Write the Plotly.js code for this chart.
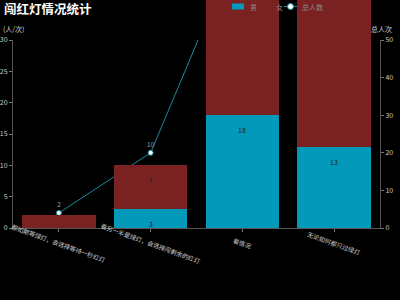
<!DOCTYPE html>
<html><head><meta charset="utf-8">
<script src="https://cdn.plot.ly/plotly-3.0.1.min.js"></script>
<style>html,body{margin:0;padding:0;background:#000;}#chart{width:400px;height:300px;}</style>
</head><body><div id="chart"></div>
<script>
const categories = ["都如期等绿灯，会选择等待一秒红灯", "看另一半是绿灯，会选择闯剩余的红灯", "看情况", "无论如何都只过绿灯"];
const maleValues = [0, 3, 18, 13];
const femaleValues = [2, 7, 21, 25];
const totalValues = [2, 10, 39, 38];
const seriesNames = ["男", "女", "总人数"];
const titleText = "闯红灯情况统计";
const leftAxisName = "(人/次)";
const rightAxisName = "总人次";
const leftMax = 30, rightMax = 50, lineMax = 25;

const FONT = '"Noto Sans CJK SC", "Noto Sans", sans-serif';
const maleColor = '#0399bb';
const femaleColor = '#7a2222';
const lineColor = '#1a8a9c';

// geometry (pixels)
const L = 13, R = 380, T = 40, B = 228;
const frac = (B - T) / B;
const px2x = p => (p - L) / (R - L);
const px2y = p => (B - p) / B;
const barMax = leftMax / frac;

const xIdx = categories.map((c, i) => i);

const traces = [
  {type: 'scatter', x: [], y: [], yaxis: 'y', showlegend: false, hoverinfo: 'none'},
  {type: 'scatter', x: [], y: [], yaxis: 'y2', showlegend: false, hoverinfo: 'none'},
  {type: 'bar', name: seriesNames[0], x: xIdx, y: maleValues, yaxis: 'y4', marker: {color: maleColor},
   hoverinfo: 'none', showlegend: false},
  {type: 'bar', name: seriesNames[1], x: xIdx, y: femaleValues, yaxis: 'y4', marker: {color: femaleColor},
   hoverinfo: 'none', showlegend: false},
  {type: 'scatter', mode: 'lines+markers+text', name: seriesNames[2], x: xIdx, y: totalValues, yaxis: 'y3',
   line: {color: lineColor, width: 1},
   marker: {color: '#fff', size: 5, line: {color: lineColor, width: 1}},
   text: totalValues.map(v => v <= lineMax ? String(v) : ''), textposition: 'top center',
   textfont: {color: '#999', size: 7, family: FONT},
   hoverinfo: 'none', showlegend: false}
];

const annotations = [];
categories.forEach((c, i) => {
  annotations.push({x: i, xref: 'x', y: 0, yref: 'y', yshift: -15, text: c, textangle: 20,
    showarrow: false, xanchor: 'center', yanchor: 'middle',
    font: {color: '#ccc', size: 6.2, family: FONT}});
});
const pxPerUnit = (B - T) / leftMax;
maleValues.forEach((v, i) => {
  if (v * pxPerUnit > 15) annotations.push({x: i, xref: 'x', y: v, yref: 'y4', yshift: -15, text: String(v),
    showarrow: false, font: {color: '#222', size: 7, family: FONT}});
});
femaleValues.forEach((v, i) => {
  const top = maleValues[i] + v;
  if (v * pxPerUnit > 15 && top <= barMax) annotations.push({x: i, xref: 'x', y: top, yref: 'y4', yshift: -15, text: String(v),
    showarrow: false, font: {color: '#222', size: 7, family: FONT}});
});
annotations.push({x: px2x(13), xref: 'paper', y: px2y(29), yref: 'paper', text: leftAxisName, showarrow: false,
  xanchor: 'center', yanchor: 'middle', font: {color: '#ccc', size: 7, family: FONT}});
annotations.push({x: px2x(381), xref: 'paper', y: px2y(29), yref: 'paper', text: rightAxisName, showarrow: false,
  xanchor: 'center', yanchor: 'middle', font: {color: '#ccc', size: 7, family: FONT}});
const legTextX = [248, 274, 300];
seriesNames.forEach((n, i) => {
  annotations.push({x: px2x(legTextX[i]), xref: 'paper', y: px2y(6.5), yref: 'paper', text: n, showarrow: false,
    xanchor: 'left', yanchor: 'middle', font: {color: '#8a8a8a', size: 7, family: FONT}});
});
annotations.push({x: px2x(3), xref: 'paper', y: px2y(8), yref: 'paper', text: '<b>' + titleText + '</b>', showarrow: false,
  xanchor: 'left', yanchor: 'middle', borderpad: 0, font: {color: '#fff', size: 12.5, family: FONT}});

const shapes = [
  {type: 'rect', xref: 'paper', yref: 'paper', x0: px2x(232), x1: px2x(244), y0: px2y(9.5), y1: px2y(3.5),
   fillcolor: maleColor, line: {width: 0}},
  {type: 'rect', xref: 'paper', yref: 'paper', x0: px2x(258), x1: px2x(270), y0: px2y(9.5), y1: px2y(3.5),
   fillcolor: femaleColor, line: {width: 0}},
  {type: 'line', xref: 'paper', yref: 'paper', x0: px2x(284), x1: px2x(297), y0: px2y(6.5), y1: px2y(6.5),
   line: {color: lineColor, width: 1}},
  {type: 'circle', xref: 'paper', yref: 'paper', x0: px2x(287.5), x1: px2x(293.5), y0: px2y(9.5), y1: px2y(3.5),
   fillcolor: '#fff', line: {color: lineColor, width: 1}}
];

const axisCommon = {ticks: 'outside', ticklen: 3, tickcolor: '#777', showline: true, linecolor: '#555', linewidth: 1,
  showgrid: false, zeroline: false, color: '#ccc', tickfont: {color: '#ccc', size: 7, family: FONT}, fixedrange: true};

const layout = {
  width: 400, height: 300,
  paper_bgcolor: '#000', plot_bgcolor: 'rgba(0,0,0,0)',
  margin: {l: L, r: 400 - R, t: 0, b: 300 - B, pad: 0},
  barmode: 'stack', bargap: 0.2,
  font: {family: FONT, color: '#ccc', size: 7},
  xaxis: Object.assign({}, axisCommon, {range: [-0.5, categories.length - 0.5], tickvals: xIdx, showticklabels: false,
    anchor: 'y'}),
  yaxis: Object.assign({}, axisCommon, {range: [0, leftMax], dtick: 5, domain: [0, frac], anchor: 'x'}),
  yaxis2: Object.assign({}, axisCommon, {range: [0, rightMax], dtick: 10, overlaying: 'y', side: 'right', anchor: 'x'}),
  yaxis3: {range: [0, lineMax], domain: [0, frac], anchor: 'x', visible: false, fixedrange: true},
  yaxis4: {range: [0, barMax], domain: [0, 1], anchor: 'x', visible: false, fixedrange: true},
  annotations: annotations,
  shapes: shapes,
  showlegend: false
};

Plotly.newPlot('chart', traces, layout, {displayModeBar: false, staticPlot: true});
</script></body></html>
